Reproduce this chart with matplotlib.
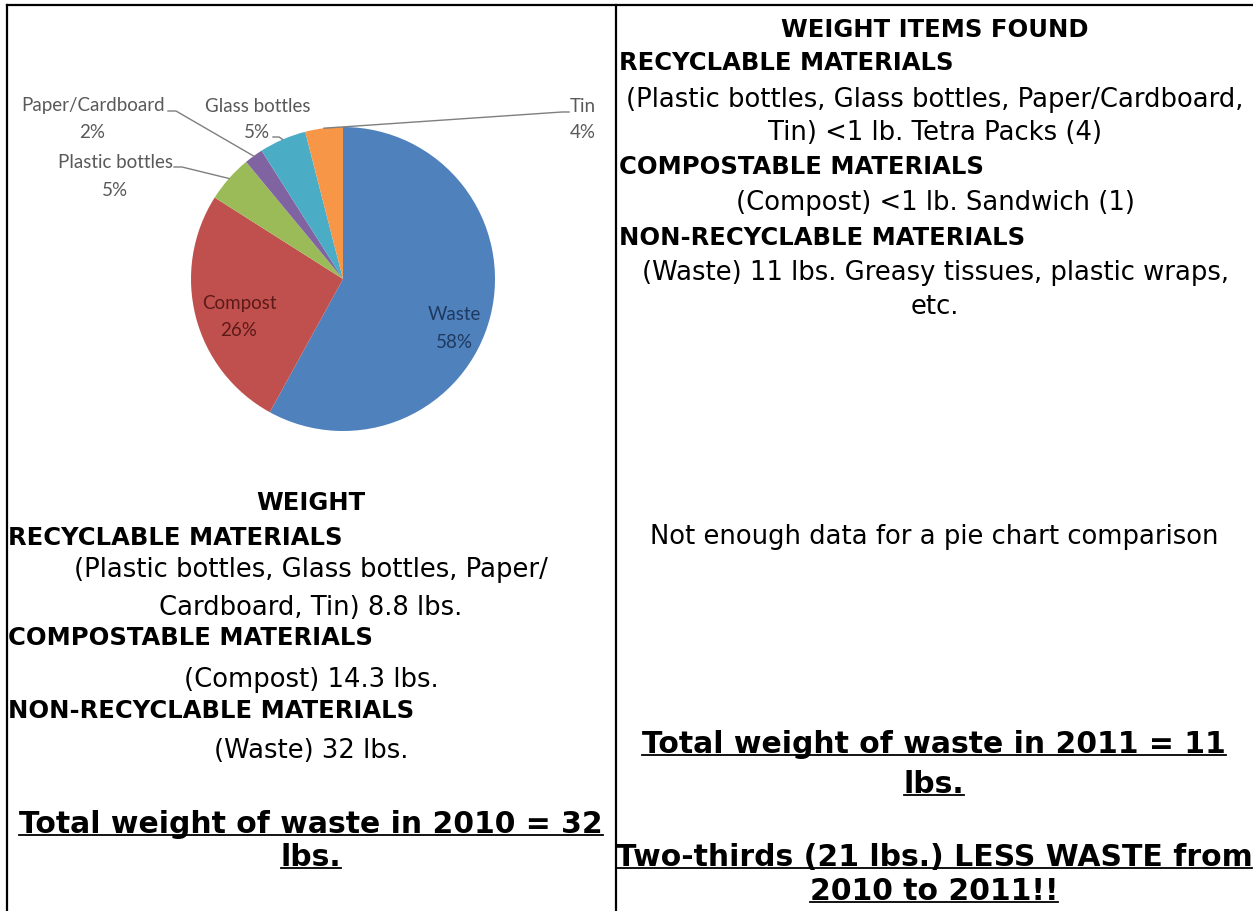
import matplotlib
matplotlib.use('Agg')
import matplotlib.pyplot as plt
from matplotlib.lines import Line2D
import numpy as np

# pie data (2010 audit, % of weight)
categories = ['Waste', 'Compost', 'Plastic bottles', 'Paper/Cardboard', 'Glass bottles', 'Tin']
shares = [58, 26, 5, 2, 5, 4]
slice_colors = ['#4F81BD', '#C0504D', '#9BBB59', '#8064A2', '#4BACC6', '#F79646']

# table text
right_lines = [
    ('WEIGHT ITEMS FOUND', 'bold', 'center'),
    ('RECYCLABLE MATERIALS', 'bold', 'left'),
    ('(Plastic bottles, Glass bottles, Paper/Cardboard,', 'normal', 'center'),
    ('Tin) <1 lb. Tetra Packs (4)', 'normal', 'center'),
    ('COMPOSTABLE MATERIALS', 'bold', 'left'),
    ('(Compost) <1 lb. Sandwich (1)', 'normal', 'center'),
    ('NON-RECYCLABLE MATERIALS', 'bold', 'left'),
    ('(Waste) 11 lbs. Greasy tissues, plastic wraps,', 'normal', 'center'),
    ('etc.', 'normal', 'center'),
]
right_y = [30, 63, 100, 133, 167, 203, 238, 273, 307]

left_lines = [
    ('WEIGHT', 'bold', 'center'),
    ('RECYCLABLE MATERIALS', 'bold', 'left'),
    ('(Plastic bottles, Glass bottles, Paper/', 'normal', 'center'),
    ('Cardboard, Tin) 8.8 lbs.', 'normal', 'center'),
    ('COMPOSTABLE MATERIALS', 'bold', 'left'),
    ('(Compost) 14.3 lbs.', 'normal', 'center'),
    ('NON-RECYCLABLE MATERIALS', 'bold', 'left'),
    ('(Waste) 32 lbs.', 'normal', 'center'),
]
left_y = [503, 538, 570, 608, 638, 680, 711, 751]

total_2010 = 32
total_2011 = 11
saved = total_2010 - total_2011

W, H = 1253, 912
fig = plt.figure(figsize=(W / 100, H / 100), dpi=100)
plt.rcParams['font.family'] = 'DejaVu Sans'


def fx(px):
    return px / W


def fy(py):
    return 1 - py / H


def put(px, py, s, **kw):
    return fig.text(fx(px), fy(py), s, **kw)


# table borders
lw = 1.6
fig.add_artist(Line2D([fx(7), 1], [fy(6), fy(6)], color='black', lw=lw))
fig.add_artist(Line2D([fx(7), fx(7)], [fy(6), 0], color='black', lw=lw))
fig.add_artist(Line2D([fx(616), fx(616)], [fy(6), 0], color='black', lw=lw))

# pie chart
cx, cy, r = 343, 280, 152
ax = fig.add_axes([fx(cx - r), fy(cy + r), (2 * r) / W, (2 * r) / H])
wedges, _ = ax.pie(shares, colors=slice_colors, startangle=90, counterclock=False,
                   radius=1, wedgeprops=dict(linewidth=0))
ax.set_xlim(-1, 1)
ax.set_ylim(-1, 1)
ax.set_aspect('auto')
ax.axis('off')


def pix2data(px, py):
    return (px - cx) / r, (cy - py) / r


pie_font = 'Lato'
gray = '#595959'
# label name/percent positions (pixels), leader start points or None
label_pos = {
    'Waste': ((454, 315), (454, 342), None, '#1F3A60'),
    'Compost': ((239, 303), (239, 330), None, '#5C1A18'),
    'Plastic bottles': ((115, 163), (115, 190), [(174, 168), (182, 168)], gray),
    'Paper/Cardboard': ((93, 106), (92, 133), [(168, 112), (176, 112)], gray),
    'Glass bottles': ((258, 106), (257, 133), [(273, 138), (279, 138)], gray),
    'Tin': ((583, 106), (583, 133), [(569, 113), (562, 113)], gray),
}

for w, name, v in zip(wedges, categories, shares):
    (nx, ny), (vx, vy), lead, col = label_pos[name]
    put(nx, ny, name, ha='center', va='center', fontsize=13.5, family=pie_font, color=col)
    put(vx, vy, f'{v}%', ha='center', va='center', fontsize=13.5, family=pie_font, color=col)
    if lead is not None:
        mid = np.deg2rad((w.theta1 + w.theta2) / 2)
        pts = [pix2data(*p) for p in lead] + [(np.cos(mid) * w.r, np.sin(mid) * w.r)]
        xs, ys = zip(*pts)
        ax.plot(xs, ys, color='#7f7f7f', lw=1.0, clip_on=False)

body = 18.6
head = 17.5


def draw_block(lines, ys, x_left, x_center):
    for (s, weight, align), y in zip(lines, ys):
        if align == 'left':
            put(x_left, y, s, ha='left', va='center', fontsize=head, fontweight='bold')
        else:
            fs = head if weight == 'bold' else body
            put(x_center, y, s, ha='center', va='center', fontsize=fs, fontweight=weight)


draw_block(right_lines, right_y, 619, 935)
draw_block(left_lines, left_y, 8, 311)

put(934, 537, 'Not enough data for a pie chart comparison', ha='center', va='center', fontsize=body)

big = 21.5
under = [
    (311, 833, f'Total weight of waste in 2010 = {total_2010}'),
    (311, 866, 'lbs.'),
    (934, 753, f'Total weight of waste in 2011 = {total_2011}'),
    (934, 793, 'lbs.'),
    (934, 866, f'Two-thirds ({saved} lbs.) LESS WASTE from'),
    (934, 900, '2010 to 2011!!'),
]
texts = [put(x, y, s, ha='center', va='baseline', fontsize=big, fontweight='bold') for x, y, s in under]

fig.canvas.draw()
renderer = fig.canvas.get_renderer()
for t, (x, y, s) in zip(texts, under):
    bb = t.get_window_extent(renderer)
    yl = (H - y - 3) / H
    fig.add_artist(Line2D([bb.x0 / W, bb.x1 / W], [yl, yl], color='black', lw=1.3))

fig.savefig('out.png', dpi=100, facecolor='white')
